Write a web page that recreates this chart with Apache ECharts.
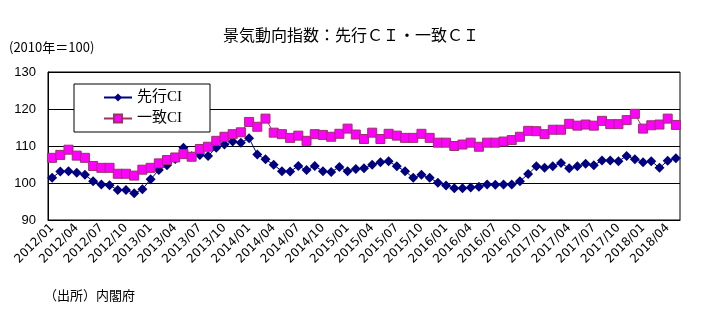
<!DOCTYPE html>
<html>
<head>
<meta charset="utf-8">
<script src="https://cdn.jsdelivr.net/npm/echarts@6/dist/echarts.min.js"></script>
<style>html,body{margin:0;padding:0;background:#fff;}#c{width:702px;height:325px;}</style>
</head>
<body>
<div id="c"></div>
<script>
// Categories: monthly 2012/01 .. 2018/05
const categories = [];
for (let y = 2012; y <= 2018; y++) {
  for (let m = 1; m <= 12; m++) {
    if (y === 2018 && m > 5) break;
    categories.push(y + '/' + (m < 10 ? '0' + m : '' + m));
  }
}
const leadingCI = [
  101.4,103.1,103.2,102.8,102.2,100.5,99.6,99.4,98.1,98.1,97.2,98.3,
  101.0,103.5,104.8,106.5,109.5,107.2,107.6,107.3,109.5,110.4,111.2,110.9,
  112.1,107.7,106.4,104.9,103.2,103.1,104.6,103.5,104.6,103.2,103.0,104.3,
  103.2,103.8,104.0,104.9,105.6,105.9,104.5,103.2,101.4,102.2,101.4,100.1,
  99.3,98.6,98.6,98.8,99.0,99.6,99.5,99.6,99.6,100.5,102.4,104.5,
  104.1,104.5,105.4,104.0,104.5,105.2,104.8,106.1,106.1,105.9,107.3,106.4,
  105.6,105.9,104.1,106.0,106.7
];
const coincidentCI = [
  106.8,107.6,109.0,107.4,106.8,104.6,104.1,104.1,102.5,102.5,102.0,103.6,
  104.1,105.3,106.2,106.9,107.8,107.1,109.2,109.8,111.4,112.5,113.2,113.7,
  116.5,115.2,117.4,113.6,113.2,112.2,112.8,111.4,113.2,113.0,112.5,113.3,
  114.7,113.1,111.9,113.6,111.9,113.3,112.8,112.2,112.2,113.3,112.2,110.9,
  110.9,110.0,110.4,110.9,109.8,110.9,110.9,111.2,111.6,112.5,114.1,114.0,
  113.2,114.4,114.4,116.0,115.5,115.8,115.5,116.8,115.9,115.9,117.0,118.7,
  114.7,115.6,115.8,117.4,115.7
];
const seriesNames = ['先行CI', '一致CI'];
const yTicks = { min: 90, max: 130, interval: 10 };

const chart = echarts.init(document.getElementById('c'), null, { renderer: 'canvas' });
chart.setOption({
  animation: false,
  backgroundColor: '#fff',
  graphic: [
    { type: 'text', left: 'center', top: 27, style: { text: '景気動向指数：先行ＣＩ・一致ＣＩ', font: '16px "Noto Sans CJK JP"', fill: '#000' } },
    { type: 'text', left: 9, top: 41, style: { text: '(2010年＝100)', font: '13px "Noto Sans CJK JP"', fill: '#000' } },
    { type: 'text', left: 44, top: 289, style: { text: '（出所）内閣府', font: '13px "Noto Sans CJK JP"', fill: '#000' } }
  ],
  legend: {
    orient: 'vertical',
    left: 74, top: 84,
    backgroundColor: '#fff',
    borderColor: '#000', borderWidth: 1,
    padding: [6, 28, 6, 29],
    itemWidth: 28, itemHeight: 10, itemGap: 6,
    textStyle: { fontFamily: '"Liberation Serif","Noto Sans CJK JP"', fontSize: 15, color: '#000' },
    data: seriesNames
  },
  grid: { left: 48, right: 22, top: 72, bottom: 105, show: true, borderColor: '#000', borderWidth: 1, backgroundColor: 'transparent' },
  xAxis: {
    type: 'category', data: categories, boundaryGap: true,
    axisLine: { lineStyle: { color: '#000', width: 1 } },
    axisTick: { inside: true, length: 6, interval: 2, lineStyle: { color: '#000' } },
    axisLabel: { interval: 2, rotate: 45, fontSize: 12, fontFamily: 'DejaVu Sans', color: '#000', margin: 6 },
    splitLine: { show: false }
  },
  yAxis: {
    type: 'value', min: yTicks.min, max: yTicks.max, interval: yTicks.interval,
    axisLine: { show: true, lineStyle: { color: '#000' } },
    axisTick: { show: false },
    axisLabel: { fontSize: 13, fontFamily: 'Liberation Sans', color: '#000', margin: 12 },
    splitLine: { show: true, lineStyle: { color: '#000', width: 1 } }
  },
  series: [
    {
      name: seriesNames[0], type: 'line', data: leadingCI,
      symbol: 'diamond', symbolSize: 10, showAllSymbol: true,
      lineStyle: { color: '#000080', width: 1 },
      itemStyle: { color: '#000080', borderColor: '#000080', borderWidth: 0 },
      z: 2
    },
    {
      name: seriesNames[1], type: 'line', data: coincidentCI,
      symbol: 'rect', symbolSize: 9, showAllSymbol: true,
      lineStyle: { color: '#993366', width: 1 },
      itemStyle: { color: '#FF00FF', borderColor: '#993366', borderWidth: 1 },
      z: 3
    }
  ]
});
</script>
</body>
</html>
